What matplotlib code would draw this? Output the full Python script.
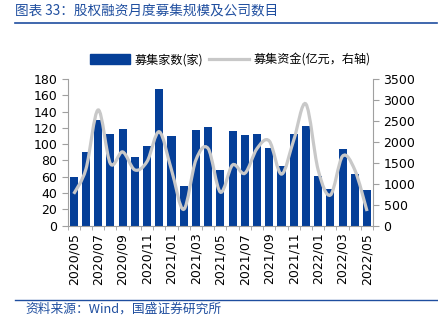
import numpy as np
import matplotlib
matplotlib.use("Agg")
import matplotlib.pyplot as plt
from matplotlib.path import Path
from matplotlib.patches import PathPatch, Patch
from matplotlib.lines import Line2D

plt.rcParams['font.family'] = ['DejaVu Sans', 'Noto Sans CJK SC']

months = ['2020/05', '2020/06', '2020/07', '2020/08', '2020/09', '2020/10', '2020/11', '2020/12',
          '2021/01', '2021/02', '2021/03', '2021/04', '2021/05', '2021/06', '2021/07', '2021/08',
          '2021/09', '2021/10', '2021/11', '2021/12', '2022/01', '2022/02', '2022/03', '2022/04',
          '2022/05']
companies = [60, 90, 130, 112, 118, 84, 98, 168, 110, 49, 117, 121, 68, 116, 111, 113,
             95, 73, 112, 122, 61, 45, 94, 64, 44]
funds = [760, 1350, 2760, 1480, 1760, 1330, 1530, 2240, 1330, 390, 1570, 1840, 800, 1450,
         1250, 1840, 2020, 1230, 2040, 2900, 1330, 730, 1660, 1330, 350]

bar_color = '#053F98'
line_color = '#C8C8C8'
axis_color = '#A0A0A0'
title_color = '#1F4E9F'

fig = plt.figure(figsize=(4.39, 3.22), dpi=100)
ax = fig.add_axes([0.154, 0.299, 0.696, 0.456])
x = np.arange(len(months))
ax.bar(x, companies, width=0.66, color=bar_color, zorder=2)
ax.set_xlim(-0.5, len(months) - 0.5)
ax.set_ylim(0, 180)
ax.set_yticks(np.arange(0, 181, 20))

ax2 = ax.twinx()
ax2.set_ylim(0, 3500)
ax2.set_yticks(np.arange(0, 3501, 500))

# smoothed line (Catmull-Rom style bezier through the monthly points)
pts = np.column_stack([x, funds]).astype(float)
ext = np.vstack([pts[0], pts, pts[-1]])
verts = [tuple(pts[0])]
codes = [Path.MOVETO]
for i in range(len(pts) - 1):
    p0, p1, p2, p3 = ext[i], ext[i + 1], ext[i + 2], ext[i + 3]
    c1 = p1 + (p2 - p0) / 6
    c2 = p2 - (p3 - p1) / 6
    verts += [tuple(c1), tuple(c2), tuple(p2)]
    codes += [Path.CURVE4] * 3
ax2.add_patch(PathPatch(Path(verts, codes), fill=False, edgecolor=line_color, lw=2.3, zorder=3))

for a in (ax, ax2):
    for s in a.spines.values():
        s.set_visible(False)
ax.spines['left'].set_visible(True)
ax.spines['left'].set_color(axis_color)
ax.spines['bottom'].set_visible(True)
ax.spines['bottom'].set_color(axis_color)
ax2.spines['right'].set_visible(True)
ax2.spines['right'].set_color(axis_color)

ax.tick_params(axis='y', colors=axis_color, labelcolor='black', labelsize=9, length=4)
ax2.tick_params(axis='y', colors=axis_color, labelcolor='black', labelsize=9, length=4)
ax.set_xticks(x[::2])
ax.set_xticklabels(months[::2], rotation=90, fontsize=9)
ax.set_xticks(np.arange(-0.5, len(months), 1), minor=True)
ax.tick_params(axis='x', which='major', length=0, pad=5)
ax.tick_params(axis='x', which='minor', length=3, color=axis_color)

handles = [Patch(color=bar_color), Line2D([0], [0], color=line_color, lw=2.3)]
fig.legend(handles, ['募集家数(家)', '募集资金(亿元，右轴)'], loc='center', ncol=2,
           bbox_to_anchor=(0.525, 0.814), frameon=False, handlelength=3.3,
           handleheight=0.9, columnspacing=0.5, handletextpad=0.4,
           prop={'family': ['Noto Sans CJK SC'], 'size': 8.7})

fig.text(0.034, 0.968, '图表 33：股权融资月度募集规模及公司数目', color=title_color, fontsize=9.8,
         family=['Noto Sans CJK SC'], va='center', style='italic')
fig.add_artist(Line2D([0.034, 0.995], [0.93, 0.93], color=title_color, lw=1.2))
fig.add_artist(Line2D([0.034, 0.995], [0.068, 0.068], color=title_color, lw=1.0))
fig.text(0.058, 0.04, '资料来源：Wind，国盛证券研究所', color=title_color, fontsize=9.2,
         family=['Noto Sans CJK SC'], va='center', style='italic')

fig.savefig('out.png', dpi=100)
